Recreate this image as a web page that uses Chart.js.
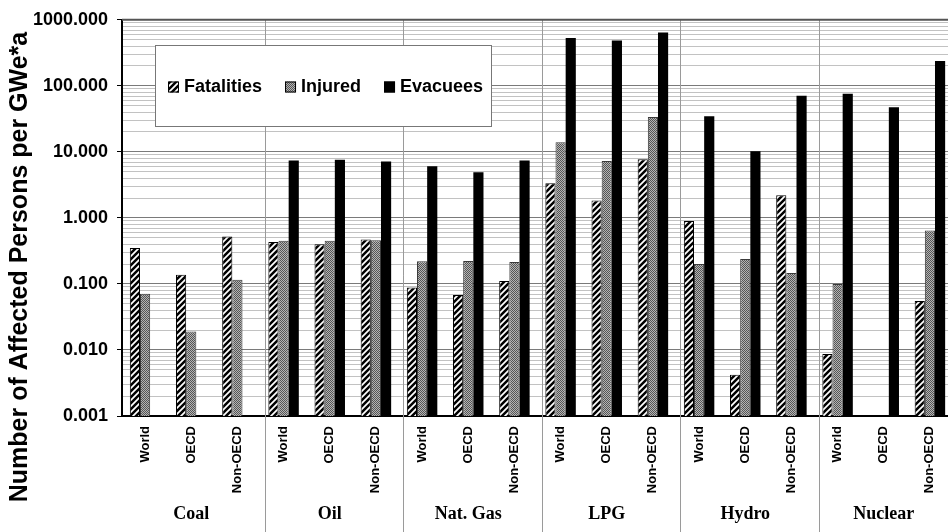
<!DOCTYPE html>
<html>
<head>
<meta charset="utf-8">
<script src="https://cdn.jsdelivr.net/npm/chart.js@4.4.1/dist/chart.umd.min.js"></script>
<style>
    html, body { margin: 0; padding: 0; background: #fff; overflow: hidden; }
    #wrap { width: 956px; height: 532px; position: relative; }
</style>
</head>
<body>
<div id="wrap"><canvas id="accidentChart"></canvas></div>
<script>
// Energy chains and regions along the x axis
const sources = ['Coal', 'Oil', 'Nat. Gas', 'LPG', 'Hydro', 'Nuclear'];
const regions = ['World', 'OECD', 'Non-OECD'];

// Affected persons per GWe*a, one entry per source/region (null = no data)
const fatalities = [0.35, 0.138, 0.525, 0.43, 0.40, 0.47, 0.088, 0.068, 0.111, 3.36, 1.84, 7.74, 0.895, 0.0042, 2.21, 0.0087, null, 0.055];
const injured = [0.071, 0.019, 0.116, 0.45, 0.45, 0.457, 0.22, 0.222, 0.215, 14.0, 7.3, 33.8, 0.20, 0.239, 0.147, 0.10, null, 0.647];
const evacuees = [null, null, null, 7.4, 7.6, 7.14, 6.06, 4.92, 7.4, 529, 486, 643, 34.5, 10.2, 71, 76, 47.3, 238];

// Labelled ticks on the log axis
const yTickValues = [0.001, 0.01, 0.1, 1, 10, 100, 1000];

const labels = sources.flatMap(() => regions);

// Fill patterns
function hatchPattern() {
    const c = document.createElement('canvas');
    c.width = 6; c.height = 6;
    const g = c.getContext('2d');
    g.fillStyle = '#fff';
    g.fillRect(0, 0, 6, 6);
    g.strokeStyle = '#000';
    g.lineWidth = 2.5;
    g.beginPath();
    g.moveTo(-3, 3); g.lineTo(3, -3);
    g.moveTo(0, 6); g.lineTo(6, 0);
    g.moveTo(3, 9); g.lineTo(9, 3);
    g.stroke();
    return g.createPattern(c, 'repeat');
}

function dotPattern() {
    const c = document.createElement('canvas');
    c.width = 2; c.height = 2;
    const g = c.getContext('2d');
    g.fillStyle = '#b4b4b4';
    g.fillRect(0, 0, 2, 2);
    g.fillStyle = '#555';
    g.fillRect(0, 0, 1, 1);
    g.fillRect(1, 1, 1, 1);
    return g.createPattern(c, 'repeat');
}

const isMajor = v => yTickValues.some(t => Math.abs(t - v) / t < 1e-6);

// Grid values: every 1..9 step within each decade
const gridValues = [];
yTickValues.slice(0, -1).forEach(d => {
    for (let k = 1; k < 10; k++) gridValues.push(+(k * d).toPrecision(6));
});
gridValues.push(yTickValues[yTickValues.length - 1]);

const extras = {
    id: 'extras',
    beforeDatasetsDraw(chart) {
        const { ctx, chartArea, scales: { x } } = chart;
        const step = x.getPixelForValue(1) - x.getPixelForValue(0);
        ctx.save();
        ctx.strokeStyle = '#9a9a9a';
        ctx.lineWidth = 1;
        for (let g = 1; g < sources.length; g++) {
            const px = Math.round(x.getPixelForValue(g * 3) - step / 2 + 4) + 0.5;
            ctx.beginPath();
            ctx.moveTo(px, chartArea.top);
            ctx.lineTo(px, chart.height);
            ctx.stroke();
        }
        // top frame line
        ctx.strokeStyle = '#555';
        ctx.lineWidth = 2;
        ctx.beginPath();
        ctx.moveTo(chartArea.left, chartArea.top);
        ctx.lineTo(chartArea.right, chartArea.top);
        ctx.stroke();
        ctx.restore();
    },
    afterDraw(chart) {
        const { ctx, scales: { x } } = chart;
        ctx.save();

        // group names under the region labels
        ctx.fillStyle = '#000';
        ctx.font = 'bold 18px "Liberation Serif", "Times New Roman", serif';
        ctx.textAlign = 'center';
        ctx.textBaseline = 'alphabetic';
        sources.forEach((s, g) => {
            ctx.fillText(s, x.getPixelForValue(g * 3 + 1), 519);
        });

        // y axis title
        ctx.save();
        ctx.translate(20.5, 267);
        ctx.rotate(-Math.PI / 2);
        ctx.font = 'bold 25px "Liberation Sans", Arial, sans-serif';
        ctx.textBaseline = 'middle';
        ctx.fillText('Number of Affected Persons per GWe*a', 0, 0);
        ctx.restore();

        // legend box
        const bx = 155.5, by = 45.5, bw = 336, bh = 81;
        ctx.fillStyle = '#fff';
        ctx.fillRect(bx, by, bw, bh);
        ctx.strokeStyle = '#777';
        ctx.lineWidth = 1;
        ctx.strokeRect(bx, by, bw, bh);

        ctx.font = 'bold 18px "Liberation Sans", Arial, sans-serif';
        ctx.textAlign = 'left';
        ctx.textBaseline = 'middle';
        let cx = 168;
        const cy = 87;
        chart.data.datasets.forEach(ds => {
            ctx.fillStyle = ds.backgroundColor;
            ctx.fillRect(cx, cy - 5.5, 11, 11);
            ctx.strokeStyle = '#000';
            ctx.strokeRect(cx + 0.5, cy - 5, 10, 10);
            cx += 16;
            ctx.fillStyle = '#000';
            ctx.fillText(ds.label, cx, cy);
            cx += ctx.measureText(ds.label).width + 23;
        });
        ctx.restore();
    }
};

const chartCtx = document.getElementById('accidentChart').getContext('2d');
const accidentChart = new Chart(chartCtx, {
    type: 'bar',
    data: {
        labels: labels,
        datasets: [{
            label: 'Fatalities',
            data: fatalities,
            backgroundColor: hatchPattern(),
            borderColor: '#000',
            borderWidth: 1
        }, {
            label: 'Injured',
            data: injured,
            backgroundColor: dotPattern(),
            borderColor: '#3a3a3a',
            borderWidth: 1
        }, {
            label: 'Evacuees',
            data: evacuees,
            backgroundColor: '#000',
            borderWidth: 0
        }]
    },
    options: {
        responsive: true,
        maintainAspectRatio: false,
        animation: false,
        layout: {
            padding: { top: 19, right: 3, left: 0, bottom: 0 }
        },
        datasets: {
            bar: {
                categoryPercentage: 0.66,
                barPercentage: 1.0
            }
        },
        plugins: {
            legend: { display: false },
            title: { display: false },
            tooltip: { enabled: false }
        },
        scales: {
            x: {
                type: 'category',
                grid: { display: false, drawTicks: false },
                border: { display: true, color: '#000', width: 2 },
                ticks: {
                    autoSkip: false,
                    maxRotation: 90,
                    minRotation: 90,
                    padding: 10,
                    color: '#000',
                    font: { family: '"Liberation Sans", Arial, sans-serif', size: 13, weight: 'bold' }
                },
                afterFit(scale) { scale.height = 116; }
            },
            y: {
                type: 'logarithmic',
                min: 0.001,
                max: 1000,
                afterBuildTicks(scale) {
                    scale.ticks = gridValues.map(v => ({ value: v, major: isMajor(v) }));
                },
                afterFit(scale) { scale.width = 122; },
                grid: {
                    color: c => isMajor(c.tick.value) ? '#7a7a7a' : '#c2c2c2',
                    tickColor: c => isMajor(c.tick.value) ? '#000' : 'rgba(0,0,0,0)',
                    tickLength: 5,
                    lineWidth: 1
                },
                border: { display: true, color: '#000', width: 2 },
                ticks: {
                    autoSkip: false,
                    padding: 9,
                    color: '#000',
                    font: { family: '"Liberation Sans", Arial, sans-serif', size: 18, weight: 'bold' },
                    callback: v => isMajor(v) ? Number(v).toFixed(3) : ''
                }
            }
        }
    },
    plugins: [extras]
});
</script>
</body>
</html>
